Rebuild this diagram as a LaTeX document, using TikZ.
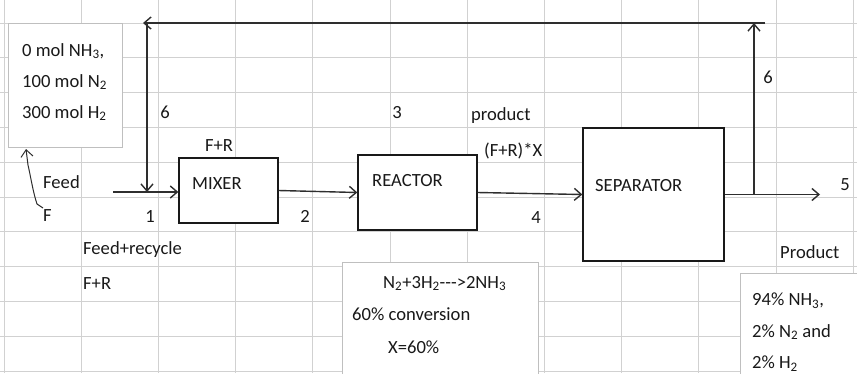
\documentclass[tikz,border=0pt]{standalone}
\usepackage{fontspec}
\setmainfont{Carlito}
\usetikzlibrary{positioning,arrows.meta}

\begin{document}
\begin{tikzpicture}[
  x=1pt, y=-1pt,
  every node/.style={font=\fontsize{18.6}{31}\selectfont, text=black!90},
  unitbox/.style={draw=black!90, line width=1.3pt, fill=white, inner sep=0pt},
  notebox/.style={draw=black!25, line width=0.8pt, fill=white, inner sep=0pt},
  tag/.style={inner sep=0pt, anchor=west, text height=12pt, text depth=0pt},
  num/.style={inner sep=0pt, text height=12pt, text depth=0pt},
  lines/.style={inner sep=0pt, anchor=north west, align=left},
  flow/.style={-{Straight Barb[length=7pt,width=12pt]}, line width=1.4pt, draw=black!82},
  cellline/.style={draw=black!18, line width=0.9pt}
]
  \useasboundingbox (0,0) rectangle (857,373);

  % sheet grid
  \foreach \gx in {4,81.2,...,860}
    \draw[cellline] (\gx,0) -- (\gx,373);
  \foreach \gy in {23,57.8,...,374}
    \draw[cellline] (0,\gy) -- (857,\gy);

  % text boxes
  \node[notebox, minimum width=114pt, minimum height=124pt] (feedbox) at (65,85) {};
  \node[lines] (feedtxt) at (22,43) {0 mol NH\textsubscript{3},\\100 mol N\textsubscript{2}\\300 mol H\textsubscript{2}};
  \node[notebox, minimum width=196pt, minimum height=138pt] (rxnbox) at (440,331) {};
  \node[lines, font=\fontsize{18.6}{32.5}\selectfont] (rxntxt) at (352,276)
    {\hspace*{31pt}N\textsubscript{2}+3H\textsubscript{2}-{}-{}-{}>2NH\textsubscript{3}\\60\% conversion\\\hspace*{36pt}X=60\%};
  \node[notebox, minimum width=130pt, minimum height=127pt] (prodbox) at (805,336.5) {};
  \node[lines, font=\fontsize{18.6}{31.5}\selectfont] (prodtxt) at (752,293)
    {94\% NH\textsubscript{3},\\2\% N\textsubscript{2} and\\2\% H\textsubscript{2}};

  % units
  \node[unitbox, minimum width=99pt, minimum height=65pt] (mixer) at (228.5,190.5) {};
  \node[tag] (mixerlbl) at (192,183) {MIXER};
  \node[unitbox, minimum width=119pt, minimum height=75pt] (reactor) at (417.5,192.5) {};
  \node[tag] (reactorlbl) at (372,180) {REACTOR};
  \node[unitbox, minimum width=141pt, minimum height=133pt] (separator) at (653.5,194.5) {};
  \node[tag] (seplbl) at (595,185) {SEPARATOR};

  % stream points
  \coordinate (feedstart) at (113,192);
  \coordinate (joinpt) at (147,192);
  \coordinate (dropstart) at (147,23);
  \coordinate (topleft) at (143,23);
  \coordinate (topright) at (765,23);
  \coordinate (risetop) at (754,23);
  \coordinate (splitpt) at (754,194.5);
  \coordinate (prodout) at (820,194.5);
  \coordinate (fcurl) at (43,208);
  \coordinate (fcurltip) at (26,149);

  \draw[flow] (feedstart) -- (feedstart -| mixer.west);
  \draw[flow] (mixer.east) -- (reactor.west);
  \draw[flow] (reactor.east) -- (separator.west);
  \draw[flow] (separator.east) -- (prodout);
  \draw[flow] (splitpt) -- (risetop);
  \draw[flow] (topright) -- (topleft);
  \draw[flow] (dropstart) -- (joinpt);
  \draw[flow, line width=1pt] (fcurl) -- (37,204) .. controls (33,192) and (31,178) .. (28,165) -- (fcurltip);

  % stream labels
  \node[tag] (feedlbl) at (43,182) {Feed};
  \node[tag] (flbl) at (43,215) {F};
  \node[num] (s1) at (150,216) {1};
  \node[num] (s2) at (305,216) {2};
  \node[num] (s3) at (397,112) {3};
  \node[num] (s4) at (536,217) {4};
  \node[num] (s5) at (845,184) {5};
  \node[num] (s6a) at (165,112) {6};
  \node[num] (s6b) at (768,77) {6};
  \node[num] (mixin) at (219,145) {F+R};
  \node[tag] (prodlbl) at (471,114) {product};
  \node[tag] (convlbl) at (484,150) {(F+R)*X};
  \node[tag] (reclbl) at (83,248) {Feed+recycle};
  \node[tag] (frlbl) at (83,283) {F+R};
  \node[tag] (outlbl) at (780,252) {Product};
\end{tikzpicture}
\end{document}
